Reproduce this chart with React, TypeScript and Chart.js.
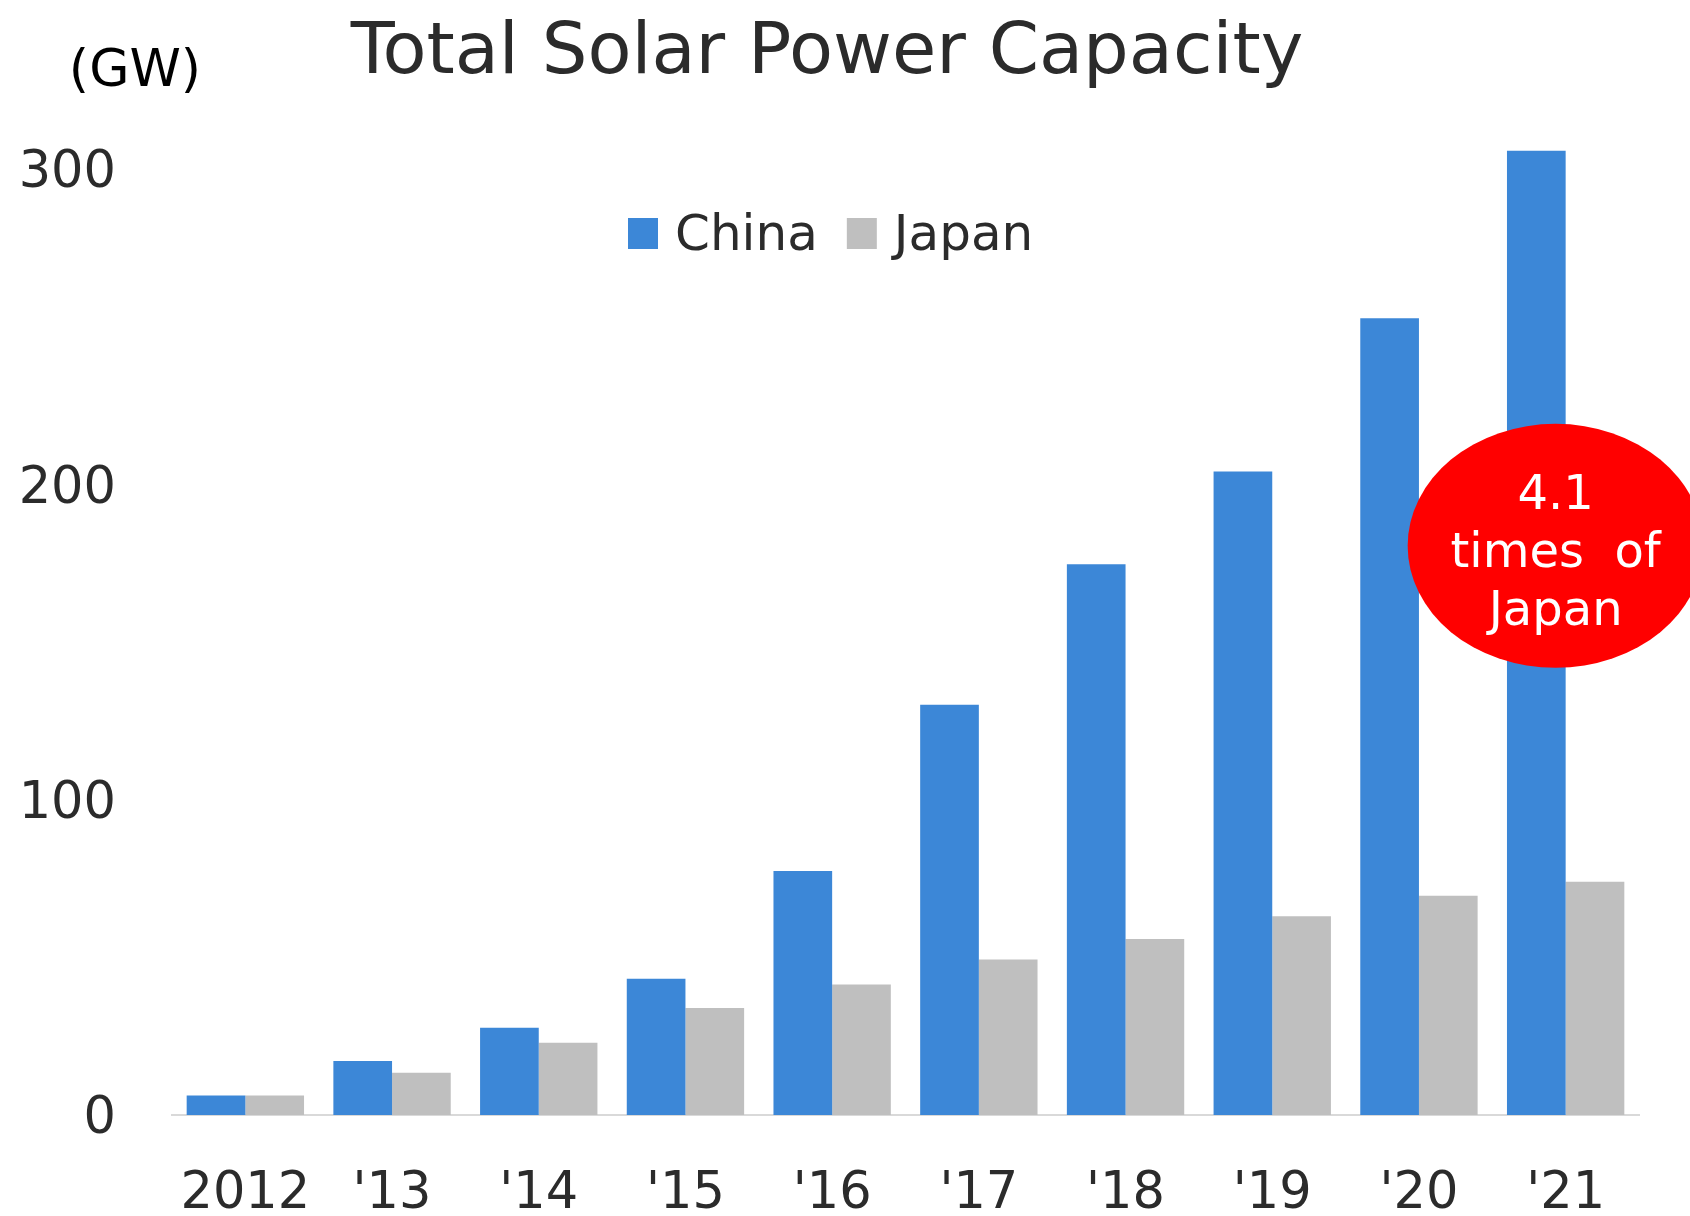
import React, { useEffect, useRef } from 'react';
import { Chart, registerables } from 'chart.js';

Chart.register(...registerables);

const categories = ['2012', "'13", "'14", "'15", "'16", "'17", "'18", "'19", "'20", "'21"];
const seriesNames = ['China', 'Japan'];
const chinaValues = [6.2, 17.1, 27.7, 43.2, 77.4, 130.1, 174.7, 204.1, 252.7, 305.8];
const japanValues = [6.2, 13.4, 22.9, 33.9, 41.4, 49.3, 55.8, 63.0, 69.5, 74.0];
const yTickValues = [0, 100, 200, 300];
const titleText = 'Total Solar Power Capacity';
const unitText = '(GW)';
const calloutLines = ['4.1', 'times  of', 'Japan'];
const calloutAnchor = { index: 9, value: 180.5 };

const FONT = '"DejaVu Sans", Verdana, sans-serif';
const TEXT = '#2b2b2b';
const CHINA_COLOR = '#3c87d7';
const JAPAN_COLOR = '#bfbfbf';

const overlayPlugin = {
  id: 'overlay',
  afterDraw(chart: any) {
    const ctx = chart.ctx as CanvasRenderingContext2D;
    const xs = chart.scales.x;
    const ys = chart.scales.y;
    ctx.save();

    // title
    ctx.fillStyle = TEXT;
    ctx.font = `72px ${FONT}`;
    ctx.textAlign = 'center';
    ctx.textBaseline = 'alphabetic';
    ctx.fillText(titleText, 827, 73);

    // unit
    ctx.fillStyle = '#000000';
    ctx.font = `52px ${FONT}`;
    ctx.fillText(unitText, 135, 86);

    // legend
    ctx.font = `50px ${FONT}`;
    ctx.textAlign = 'left';
    ctx.textBaseline = 'middle';
    let lx = 628;
    const ly = 233;
    chart.data.datasets.forEach((ds: any) => {
      ctx.fillStyle = ds.backgroundColor;
      ctx.fillRect(lx, ly - 15, 30, 31);
      ctx.fillStyle = TEXT;
      ctx.fillText(ds.label, lx + 47, ly + 4);
      lx += 47 + ctx.measureText(ds.label).width + 29;
    });

    // callout ellipse
    const cx = xs.getPixelForValue(calloutAnchor.index) - 10;
    const cy = ys.getPixelForValue(calloutAnchor.value);
    ctx.fillStyle = '#ff0000';
    ctx.beginPath();
    ctx.ellipse(cx, cy, 148, 122, 0, 0, Math.PI * 2);
    ctx.fill();
    ctx.fillStyle = '#ffffff';
    ctx.font = `48px ${FONT}`;
    ctx.textAlign = 'center';
    ctx.textBaseline = 'middle';
    calloutLines.forEach((line, i) => {
      ctx.fillText(line, cx, cy - 49 + i * 58);
    });

    ctx.restore();
  },
};

export default function App() {
  const canvasRef = useRef<HTMLCanvasElement | null>(null);

  useEffect(() => {
    const canvas = canvasRef.current;
    if (!canvas) return;
    const chart = new Chart(canvas, {
      type: 'bar',
      data: {
        labels: categories,
        datasets: [
          {
            label: seriesNames[0],
            data: chinaValues,
            backgroundColor: CHINA_COLOR,
            borderWidth: 0,
            categoryPercentage: 0.8,
            barPercentage: 1.0,
          },
          {
            label: seriesNames[1],
            data: japanValues,
            backgroundColor: JAPAN_COLOR,
            borderWidth: 0,
            categoryPercentage: 0.8,
            barPercentage: 1.0,
          },
        ],
      },
      options: {
        responsive: false,
        animation: false,
        devicePixelRatio: 1,
        layout: { padding: { left: 0, right: 51, top: 106, bottom: 0 } },
        plugins: {
          legend: { display: false },
          title: { display: false },
          tooltip: { enabled: false },
        },
        scales: {
          x: {
            grid: { display: false, drawTicks: false },
            border: { display: true, color: '#d9d9d9', width: 2 },
            ticks: {
              color: TEXT,
              font: { family: FONT, size: 51 },
              padding: 49,
              maxRotation: 0,
              autoSkip: false,
            },
            afterFit: (scale: any) => {
              scale.height = 101;
            },
          },
          y: {
            min: 0,
            max: 320,
            grid: { display: false, drawTicks: false },
            border: { display: false },
            ticks: {
              stepSize: 100,
              color: TEXT,
              font: { family: FONT, size: 51 },
              padding: 56,
              labelOffset: 5,
            },
            afterBuildTicks: (scale: any) => {
              scale.ticks = yTickValues.map((v) => ({ value: v }));
            },
            afterFit: (scale: any) => {
              scale.width = 172;
            },
          },
        },
      },
      plugins: [overlayPlugin],
    });
    return () => chart.destroy();
  }, []);

  return (
    <div style={{ position: 'fixed', left: 0, top: 0, width: 1690, height: 1216, background: '#ffffff' }}>
      <canvas ref={canvasRef} width={1690} height={1216} style={{ display: 'block' }} />
    </div>
  );
}
